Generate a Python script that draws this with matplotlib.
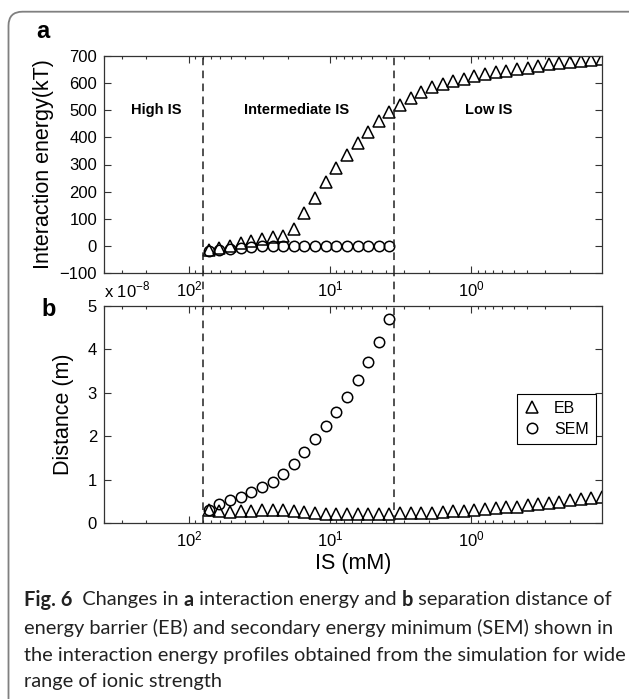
import matplotlib
matplotlib.use('Agg')
import matplotlib.pyplot as plt
from matplotlib import font_manager
from matplotlib.patches import FancyBboxPatch

# ionic strength (mM) of the simulated points
is_mM = [72.3, 60.8, 51.1, 43.0, 36.1, 30.4, 25.5, 21.5, 18.1, 15.2,
         12.8, 10.7, 9.03, 7.59, 6.38, 5.36, 4.51, 3.79, 3.19, 2.68,
         2.25, 1.90, 1.59, 1.34, 1.13, 0.947, 0.797, 0.670, 0.563, 0.473,
         0.398, 0.335, 0.281, 0.237, 0.199, 0.167, 0.141, 0.118]

# panel a: interaction energy (kT)
eb_energy = [-15, -8, 0, 12, 19, 26, 32, 37, 63, 120,
             177, 234, 287, 335, 378, 420, 459, 492, 520, 547,
             569, 584, 596, 606, 615, 625, 632, 640, 645, 652,
             657, 664, 669, 674, 679, 682, 686, 688]
sem_energy = [-20, -15, -12, -7, -4, -2, -1, 0, 0, 0,
              0, 0, 0, 0, 0, 0, 0, 0]

# panel b: separation distance (x 1e-8 m)
eb_dist = [0.30, 0.27, 0.26, 0.27, 0.28, 0.29, 0.30, 0.30, 0.27, 0.25,
           0.22, 0.20, 0.20, 0.20, 0.20, 0.20, 0.21, 0.21, 0.22, 0.22,
           0.23, 0.24, 0.25, 0.27, 0.28, 0.30, 0.32, 0.34, 0.36, 0.38,
           0.41, 0.44, 0.46, 0.49, 0.52, 0.55, 0.58, 0.61]
sem_dist = [0.30, 0.43, 0.53, 0.61, 0.71, 0.82, 0.95, 1.12, 1.37, 1.64,
            1.93, 2.23, 2.56, 2.91, 3.29, 3.70, 4.17, 4.69]

region_bounds = [80, 3.5]
region_labels = ['High IS', 'Intermediate IS', 'Low IS']
series_labels = ['EB', 'SEM']

names = {f.name for f in font_manager.fontManager.ttflist}
plt.rcParams['font.family'] = ['Liberation Sans', 'DejaVu Sans']
plt.rcParams['mathtext.fontset'] = 'custom'
plt.rcParams['mathtext.rm'] = 'Liberation Sans'

W, H = 629, 699
fig = plt.figure(figsize=(W / 100, H / 100), dpi=100)
ax_a = fig.add_axes([104 / W, 1 - 273 / H, 498 / W, 217 / H])
ax_b = fig.add_axes([104 / W, 1 - 523 / H, 498 / W, 217 / H])

axis_col = '#333333'
n_sem = len(sem_energy)
mk = dict(ls='none', mfc='none', mec='k', mew=1.1)

# panel a
ax_a.plot(is_mM, eb_energy, marker='^', ms=8.5, **mk)
ax_a.plot(is_mM[:n_sem], sem_energy, marker='o', ms=7.5, **mk)
ax_a.set_ylim(-100, 700)
ax_a.set_yticks(range(-100, 701, 100))
ax_a.set_yticklabels(['\u2212100'] + [str(v) for v in range(0, 701, 100)])
ax_a.set_ylabel('Interaction energy(kT)', fontsize=15.5, labelpad=4)

# panel b
ax_b.plot(is_mM, eb_dist, marker='^', ms=8.5, label=series_labels[0], **mk)
ax_b.plot(is_mM[:n_sem], sem_dist, marker='o', ms=7.5, label=series_labels[1], **mk)
ax_b.set_ylim(0, 5)
ax_b.set_yticks(range(0, 6))
ax_b.set_ylabel('Distance (m)', fontsize=15.5, labelpad=10)
ax_b.set_xlabel('IS (mM)', fontsize=15.5, labelpad=2)
ax_b.text(0.0, 1.025, 'x 10$^{-8}$', transform=ax_b.transAxes, fontsize=12,
          ha='left', va='bottom')
leg = ax_b.legend(loc='upper right', bbox_to_anchor=(0.988, 0.595), fontsize=11.5,
                  frameon=True, fancybox=False, edgecolor='k', framealpha=1,
                  handlelength=1.0, handletextpad=0.9, borderpad=0.45,
                  labelspacing=0.35, borderaxespad=0)
leg.get_frame().set_linewidth(0.8)

for ax in (ax_a, ax_b):
    ax.set_xscale('log')
    ax.set_xlim(400, 0.118)
    ax.tick_params(which='both', direction='in', top=True, right=True,
                   colors=axis_col, labelcolor='k', labelsize=12, width=0.8)
    ax.tick_params(which='major', length=5, pad=5)
    ax.tick_params(which='minor', length=2.5)
    for s in ax.spines.values():
        s.set_color(axis_col)
        s.set_linewidth(0.9)

# region boundaries, running through both panels and the gap between them
for xb in region_bounds:
    ax_a.axvline(xb, color='#222222', ls=(0, (5, 3.5)), lw=1.1)
    ax_b.axvline(xb, ymin=0, ymax=1 + 33 / 217, color='#222222',
                 ls=(0, (5, 3.5)), lw=1.1, clip_on=False)

label_x = [170, 17.4, 0.745]
for lx, txt in zip(label_x, region_labels):
    ax_a.text(lx, 500, txt, fontsize=10.5, fontweight='bold', ha='center', va='center')

fig.text(43 / W, 1 - 31 / H, 'a', fontsize=17, fontweight='bold', ha='center', va='center')
fig.text(49 / W, 1 - 309 / H, 'b', fontsize=17, fontweight='bold', ha='center', va='center')

# outer frame of the figure panel
frame = FancyBboxPatch((0.085, -1.0), 8.0, 6.99 - 0.117 + 1.0,
                       boxstyle='round,pad=0,rounding_size=0.14',
                       transform=fig.dpi_scale_trans, fc='none', ec='#808080', lw=1.3)
fig.add_artist(frame)

# caption with bold pieces
cap_font = 'Lato' if 'Lato' in names else 'DejaVu Sans'
caption = [
    [('Fig. 6', True), ('  Changes in ', False), ('a', True),
     (' interaction energy and ', False), ('b', True), (' separation distance of', False)],
    [('energy barrier (EB) and secondary energy minimum (SEM) shown in', False)],
    [('the interaction energy profiles obtained from the simulation for wide', False)],
    [('range of ionic strength', False)],
]
renderer = fig.canvas.get_renderer()


def line_width(parts, size):
    total = 0
    for s, b in parts:
        t = fig.text(0, 0, s, fontsize=size, family=cap_font,
                     fontweight='bold' if b else 'normal')
        total += t.get_window_extent(renderer).width
        t.remove()
    return total


cap_size = 12.0
cap_size *= 588 / line_width(caption[0], cap_size)
line_y = [600, 628, 655, 682]
for parts, yy in zip(caption, line_y):
    x = 24
    for s, b in parts:
        t = fig.text(x / W, 1 - yy / H, s, fontsize=cap_size, family=cap_font,
                     fontweight='bold' if b else 'normal', va='center', ha='left',
                     color='#222222')
        x += t.get_window_extent(renderer).width

fig.savefig('out.png', dpi=100)
